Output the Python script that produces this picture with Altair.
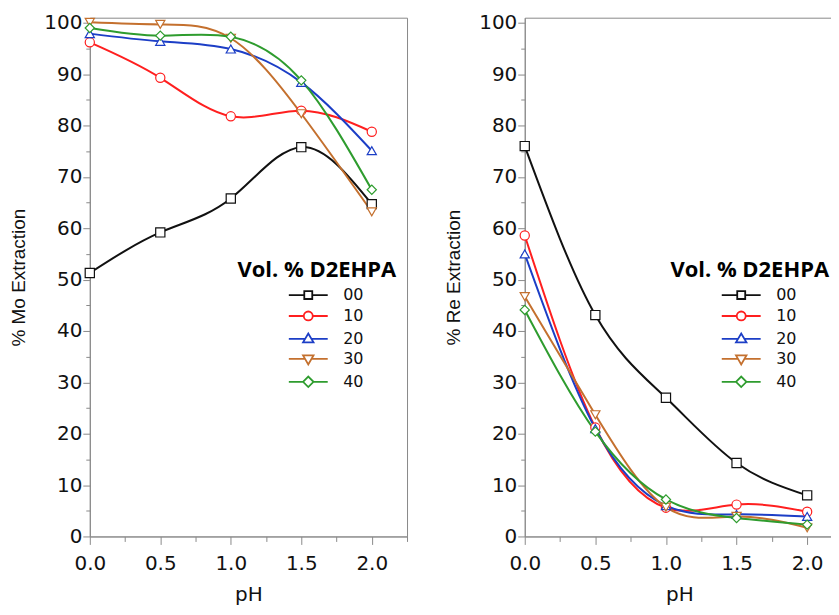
import altair as alt
import pandas as pd

ph = [0.0, 0.5, 1.0, 1.5, 2.0]
series = ["00", "10", "20", "30", "40"]

mo_00 = [51.3, 59.2, 65.8, 75.8, 64.7]
mo_10 = [96.2, 89.3, 81.8, 82.9, 78.8]
mo_20 = [97.9, 96.4, 94.9, 88.4, 75.1]
mo_30 = [100.1, 99.7, 97.0, 82.3, 63.2]
mo_40 = [99.0, 97.5, 97.3, 88.8, 67.5]

re_00 = [76.0, 43.1, 27.0, 14.3, 8.0]
re_10 = [58.6, 21.2, 5.6, 6.2, 4.8]
re_20 = [55.0, 21.0, 6.0, 4.3, 3.9]
re_30 = [46.7, 23.7, 5.7, 3.9, 1.7]
re_40 = [44.1, 20.4, 7.2, 3.6, 2.3]

colors = ["#111111", "#ff1f1f", "#1c3ec6", "#c4702e", "#2e9c2e"]
shapes = ["square", "circle", "triangle-up", "triangle-down", "diamond"]

legend_paths = [
    "M-3.9,0H-0.8M0.8,0H3.9M-0.8,-0.8H0.8V0.8H-0.8Z",
    "M-3.9,0H-0.9M0.9,0H3.9M0.9,0A0.9,0.9,0,1,1,-0.9,0A0.9,0.9,0,1,1,0.9,0Z",
    "M-3.9,0H-0.6M0.6,0H3.9M-1.05,0.7L0,-1.1L1.05,0.7Z",
    "M-3.9,0H-0.6M0.6,0H3.9M-1.05,-0.7L0,1.1L1.05,-0.7Z",
    "M-3.9,0H-1.05M1.05,0H3.9M-1.05,0L0,-1.05L1.05,0L0,1.05Z",
]

GRAY = "#8a8a8a"
TICK_FONT = "DejaVu Sans"


def make_df(vals):
    rows = []
    for s, v in zip(series, vals):
        for x, y in zip(ph, v):
            rows.append({"pH": x, "E": y, "s": s})
    return pd.DataFrame(rows)


def panel(vals, ytitle, xmax, xmajor, xminor, W, H, legx):
    df = make_df(vals)
    xs = alt.Scale(domain=[0, xmax], nice=False, zero=False)
    ys = alt.Scale(domain=[0, 101], nice=False, zero=False)
    xaxis = alt.Axis(
        values=xmajor, format=".1f", tickSize=8, labelFlush=False,
        labelOverlap=False, grid=False,
        domainColor=GRAY, tickColor=GRAY, labelColor="#111",
        labelFont=TICK_FONT, labelFontSize=20, labelPadding=9,
        title="pH", titleFont=TICK_FONT, titleFontSize=20, titleFontWeight="normal",
        titleColor="#111", titlePadding=11,
    )
    yaxis = alt.Axis(
        values=list(range(0, 101, 10)), tickSize=7,
        labelOverlap=False, grid=False,
        domainColor=GRAY, tickColor=GRAY, labelColor="#111",
        labelFont=TICK_FONT, labelFontSize=20, labelPadding=1,
        title=ytitle, titleFont="Liberation Sans", titleFontSize=19,
        titleFontWeight="normal", titleColor="#111", titlePadding=15,
    )
    legend = alt.Legend(
        title="Vol. % D2EHPA", orient="none", legendX=legx, legendY=243,
        titleFont="Open Sans", titleFontSize=22, titleFontWeight="bold",
        titleColor="#000", titlePadding=5,
        labelFont=TICK_FONT, labelFontSize=16, labelColor="#111",
        symbolSize=100, symbolOffset=63, labelOffset=27, rowPadding=4,
        symbolStrokeWidth=1.8, symbolFillColor="white",
    )
    stroke_scale = alt.Scale(domain=series, range=colors)
    lines = alt.Chart(df).mark_line(interpolate="natural", strokeWidth=2).encode(
        x=alt.X("pH:Q", scale=xs, axis=xaxis),
        y=alt.Y("E:Q", scale=ys, axis=yaxis),
        stroke=alt.Stroke("s:N", scale=stroke_scale, legend=None),
    )
    point_layers = []
    for k, shp in zip(series, shapes):
        point_layers.append(
            alt.Chart(df).transform_filter(alt.datum.s == k).mark_point(
                shape=shp, size=85, strokeWidth=1.2, fill="white", opacity=1, fillOpacity=1
            ).encode(
                x=alt.X("pH:Q", scale=xs, axis=None),
                y=alt.Y("E:Q", scale=ys, axis=None),
                stroke=alt.Stroke("s:N", scale=stroke_scale, legend=None),
            )
        )
    leg = alt.Chart(df).transform_filter("false").mark_point(opacity=1, strokeWidth=1.8).encode(
        x=alt.X("pH:Q", scale=xs, axis=None),
        y=alt.Y("E:Q", scale=ys, axis=None),
        stroke=alt.Stroke("s:N", scale=stroke_scale, legend=legend),
        shape=alt.Shape("s:N", scale=alt.Scale(domain=series, range=legend_paths), legend=legend),
    )
    minor = alt.Chart(df).mark_point(opacity=0).encode(
        x=alt.X("pH:Q", scale=xs, axis=alt.Axis(values=xminor, labels=False, tickSize=5, domain=False,
                                                title=None, grid=False, tickColor=GRAY, orient="bottom")),
        y=alt.Y("E:Q", scale=ys, axis=alt.Axis(values=list(range(5, 100, 10)), labels=False, tickSize=4,
                                               domain=False, title=None, grid=False, tickColor=GRAY,
                                               orient="left")),
    )
    return alt.layer(lines, *point_layers, leg, minor).resolve_scale(
        stroke="independent", shape="independent"
    ).resolve_axis(x="independent", y="independent").properties(width=W, height=H)


left = panel([mo_00, mo_10, mo_20, mo_30, mo_40], "% Mo Extraction", 2.25,
             [0.0, 0.5, 1.0, 1.5, 2.0], [0.25, 0.75, 1.25, 1.75, 2.25], 318, 520, 148)
right = panel([re_00, re_10, re_20, re_30, re_40], "% Re Extraction", 2.19,
              [0.0, 0.5, 1.0, 1.5, 2.0], [0.25, 0.75, 1.25, 1.75], 310, 520, 146)

chart = alt.hconcat(left, right, spacing=36).resolve_scale(
    shape="independent", stroke="independent"
).properties(
    padding={"left": 1, "top": 3, "right": -4, "bottom": 0}
).configure_view(stroke=GRAY, strokeWidth=1).configure_axis(grid=False)

chart.save("out.html", embed_options={"renderer": "svg", "actions": False})
